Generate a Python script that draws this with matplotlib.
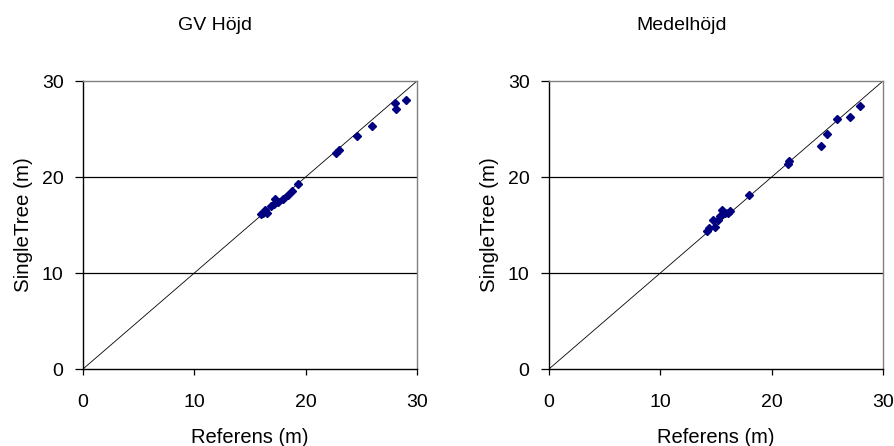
import matplotlib.pyplot as plt
import numpy as np

plt.rcParams['font.family'] = ['Liberation Sans', 'DejaVu Sans']

# GV Höjd: referens vs SingleTree
gv_ref = [29.0, 28.0, 28.1, 26.0, 24.65, 23.0, 22.7, 19.3, 18.75, 18.45, 18.0,
          17.25, 17.15, 16.85, 16.35, 16.55, 15.95, 16.2, 17.5]
gv_st = [28.0, 27.7, 27.05, 25.3, 24.3, 22.8, 22.5, 19.3, 18.55, 18.1, 17.7,
         17.7, 17.2, 17.0, 16.6, 16.2, 16.1, 16.3, 17.4]

# Medelhöjd
mh_ref = [27.95, 27.0, 25.9, 25.0, 24.45, 21.55, 21.5, 18.0, 16.3, 16.1, 15.5,
          15.35, 15.2, 14.75, 14.9, 14.4, 14.2, 15.8]
mh_st = [27.4, 26.2, 26.0, 24.5, 23.2, 21.7, 21.4, 18.1, 16.5, 16.2, 16.55,
         15.9, 15.5, 15.5, 14.8, 14.65, 14.4, 16.3]

panels = [("GV Höjd", gv_ref, gv_st), ("Medelhöjd", mh_ref, mh_st)]
ticks = [0, 10, 20, 30]

fig = plt.figure(figsize=(8.95, 4.46), dpi=100)
lefts = [83 / 895, 549 / 895]
title_x = [215 / 895, 682 / 895]

for (title, ref, st), x0, tx in zip(panels, lefts, title_x):
    ax = fig.add_axes([x0, 77 / 446, 334 / 895, 288 / 446])
    ax.set_xlim(0, 30)
    ax.set_ylim(0, 30)
    for v in [10, 20]:
        ax.axhline(v, color='black', lw=0.9, zorder=1)
    ax.plot([0, 30], [0, 30], color='black', lw=0.6, zorder=2)
    ax.plot(ref, st, linestyle='none', marker='D', markersize=4.2,
            color='#000080', zorder=3)
    ax.spines['top'].set_color('#808080')
    ax.spines['right'].set_color('#808080')
    ax.spines['left'].set_color('black')
    ax.spines['bottom'].set_color('black')
    for s in ax.spines.values():
        s.set_linewidth(1.0)
    ax.set_xticks(ticks)
    ax.set_yticks(ticks)
    ax.tick_params(axis='x', direction='out', length=4, width=0.9,
                   labelsize=14, pad=14)
    ax.tick_params(axis='y', direction='out', length=6, width=0.9,
                   labelsize=14, pad=8)
    ax.set_xlabel('Referens (m)', fontsize=14.5, labelpad=12)
    ax.set_ylabel('SingleTree (m)', fontsize=14.8, labelpad=6)
    fig.text(tx, 1 - 26 / 446, title, ha='center', va='center', fontsize=14)

fig.savefig('out.png', dpi=100)
